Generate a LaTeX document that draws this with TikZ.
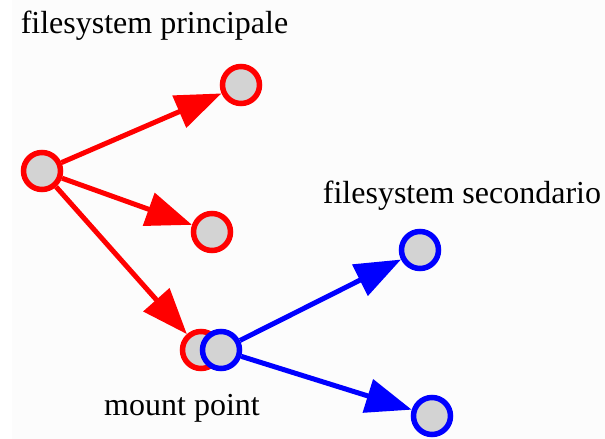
\documentclass[tikz,border=0pt]{standalone}
\usepackage{fontspec}
\setmainfont{Liberation Serif}
\usetikzlibrary{arrows.meta}
\definecolor{nodefill}{RGB}{211,211,211}
\definecolor{bgc}{RGB}{252,252,252}
\tikzset{
  vtx/.style={circle, minimum size=37pt, inner sep=0pt, line width=5.5pt, fill=nodefill},
  rvtx/.style={vtx, draw=red},
  bvtx/.style={vtx, draw=blue},
  edg/.style={line width=5pt, -{Triangle[length=46pt,width=34pt]}},
  lbl/.style={anchor=base, inner sep=0pt, font=\fontsize{32}{32}\selectfont}
}
\begin{document}
\begin{tikzpicture}[x=1pt,y=-1pt]
\useasboundingbox (0,0) rectangle (605,439);
\fill[bgc] (12,0) rectangle (605,439);
\node[rvtx] (L) at (42,171) {};
\node[rvtx] (T) at (241,85) {};
\node[rvtx] (M) at (212,232) {};
\node[rvtx] (MR) at (201,350) {};
\node[bvtx] (MB) at (221,350) {};
\node[bvtx] (BT) at (420,250) {};
\node[bvtx] (BB) at (432,416) {};
\node[lbl] (l1) at (154.5,33) {filesystem principale};
\node[lbl] (l2) at (462,203) {filesystem secondario};
\node[lbl] (l3) at (182,415) {mount point};
\draw[edg, red] (L) -- (T);
\draw[edg, red] (L) -- (M);
\draw[edg, red] (L) -- (MR);
\draw[edg, blue] (MB) -- (BT);
\draw[edg, blue] (MB) -- (BB);
\end{tikzpicture}
\end{document}
